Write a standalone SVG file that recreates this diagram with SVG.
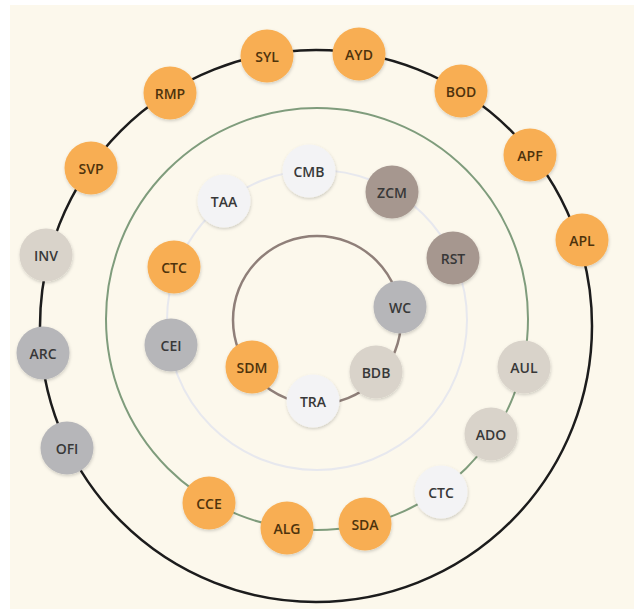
<svg xmlns="http://www.w3.org/2000/svg" width="634" height="609" viewBox="0 0 634 609">
<defs>
<filter id="sh" x="-30%" y="-30%" width="160%" height="160%">
<feDropShadow dx="0.5" dy="1.5" stdDeviation="1.5" flood-color="#000" flood-opacity="0.18"/>
</filter>
</defs>
<style>
.n circle{stroke:none;filter:url(#sh)}
.n text{font-family:"Open Sans","Liberation Sans",sans-serif;font-weight:600;font-size:14px;text-anchor:middle;dominant-baseline:central;fill:#383838}
.o circle{fill:#f8ae52}
.o text{fill:#4e330c}
.g circle{fill:#b6b6b9}
.b circle{fill:#d9d3ca}
.w circle{fill:#f3f3f5}
.m circle{fill:#a6978f}
.ring{fill:none}
</style>
<rect x="0" y="0" width="634" height="609" fill="#ffffff"/>
<rect x="10" y="5" width="624" height="604" fill="#fcf8ec"/>
<g id="connectors">
<circle class="ring" cx="316" cy="326" r="276" stroke="#1c1c1c" stroke-width="2.5"/>
<circle class="ring" cx="317" cy="319" r="211" stroke="#7f9c7c" stroke-width="2"/>
<circle class="ring" cx="317" cy="320" r="150" stroke="#e7e8ee" stroke-width="2"/>
<circle class="ring" cx="317" cy="320" r="84" stroke="#8f7f79" stroke-width="2.5"/>
</g>
<g id="SYL" class="n o"><circle cx="267" cy="56" r="26.5"/><text x="267" y="56">SYL</text></g>
<g id="AYD" class="n o"><circle cx="359" cy="54" r="26.5"/><text x="359" y="54">AYD</text></g>
<g id="BOD" class="n o"><circle cx="461" cy="91" r="26.5"/><text x="461" y="91">BOD</text></g>
<g id="APF" class="n o"><circle cx="530" cy="155" r="26.5"/><text x="530" y="155">APF</text></g>
<g id="APL" class="n o"><circle cx="582" cy="240" r="26.5"/><text x="582" y="240">APL</text></g>
<g id="RMP" class="n o"><circle cx="170" cy="93" r="26.5"/><text x="170" y="93">RMP</text></g>
<g id="SVP" class="n o"><circle cx="91" cy="168" r="26.5"/><text x="91" y="168">SVP</text></g>
<g id="INV" class="n b"><circle cx="46" cy="255" r="26.5"/><text x="46" y="255">INV</text></g>
<g id="ARC" class="n g"><circle cx="43" cy="353" r="26.5"/><text x="43" y="353">ARC</text></g>
<g id="OFI" class="n g"><circle cx="67" cy="448" r="26.5"/><text x="67" y="448">OFI</text></g>
<g id="AUL" class="n b"><circle cx="524" cy="367" r="26.5"/><text x="524" y="367">AUL</text></g>
<g id="ADO" class="n b"><circle cx="491" cy="434" r="26.5"/><text x="491" y="434">ADO</text></g>
<g id="CTC-green" class="n w"><circle cx="441" cy="492" r="26.5"/><text x="441" y="492">CTC</text></g>
<g id="SDA" class="n o"><circle cx="365" cy="524" r="26.5"/><text x="365" y="524">SDA</text></g>
<g id="ALG" class="n o"><circle cx="287" cy="528" r="26.5"/><text x="287" y="528">ALG</text></g>
<g id="CCE" class="n o"><circle cx="209" cy="503" r="26.5"/><text x="209" y="503">CCE</text></g>
<g id="CMB" class="n w"><circle cx="309" cy="171" r="26.5"/><text x="309" y="171">CMB</text></g>
<g id="TAA" class="n w"><circle cx="224" cy="201" r="26.5"/><text x="224" y="201">TAA</text></g>
<g id="ZCM" class="n m"><circle cx="392" cy="192" r="26.5"/><text x="392" y="192">ZCM</text></g>
<g id="RST" class="n m"><circle cx="453" cy="258" r="26.5"/><text x="453" y="258">RST</text></g>
<g id="CTC-white" class="n o"><circle cx="174" cy="267" r="26.5"/><text x="174" y="267">CTC</text></g>
<g id="CEI" class="n g"><circle cx="171" cy="345" r="26.5"/><text x="171" y="345">CEI</text></g>
<g id="WC" class="n g"><circle cx="400" cy="307" r="26.5"/><text x="400" y="307">WC</text></g>
<g id="BDB" class="n b"><circle cx="376" cy="372" r="26.5"/><text x="376" y="372">BDB</text></g>
<g id="TRA" class="n w"><circle cx="313" cy="401" r="26.5"/><text x="313" y="401">TRA</text></g>
<g id="SDM" class="n o"><circle cx="252" cy="367" r="26.5"/><text x="252" y="367">SDM</text></g>
</svg>
